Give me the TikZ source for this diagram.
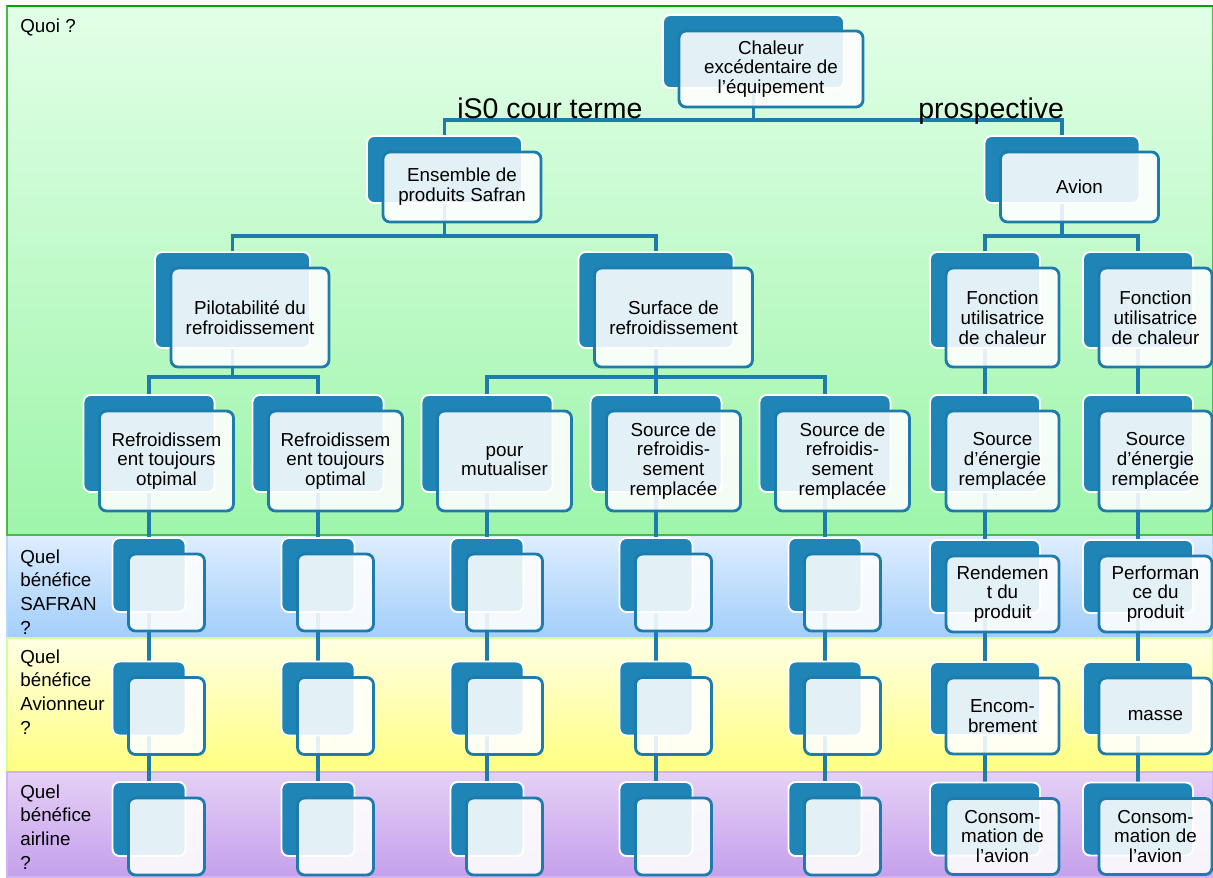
\documentclass[tikz,border=0pt]{standalone}
\usepackage{fontspec}
\setmainfont{Liberation Sans}
\usetikzlibrary{calc, positioning}

\definecolor{backblue}{RGB}{31,133,183}
\definecolor{linkblue}{RGB}{30,124,172}
\definecolor{quoitop}{RGB}{226,255,232}
\definecolor{quoibot}{RGB}{158,245,170}
\definecolor{safrantop}{RGB}{222,238,255}
\definecolor{safranbot}{RGB}{162,206,250}
\definecolor{aviotop}{RGB}{255,255,228}
\definecolor{aviobot}{RGB}{255,255,128}
\definecolor{airtop}{RGB}{228,208,246}
\definecolor{airbot}{RGB}{198,160,236}

\newcommand{\boxfont}{\fontsize{10.7}{11.3}\selectfont}
\newcommand{\bandfont}{\fontsize{10.7}{13.4}\selectfont}

\pgfdeclarelayer{bands}
\pgfdeclarelayer{links}
\pgfsetlayers{bands,links,main}

\tikzset{
    backbox/.style={draw=white, line width=1.1pt, fill=backblue,
        rounded corners=4pt, inner sep=0pt},
    frontbox/.style={draw=linkblue, line width=1.6pt, fill=white,
        fill opacity=0.88, text opacity=1, rounded corners=4pt,
        inner sep=0pt, align=center, font=\boxfont},
    link/.style={draw=linkblue, line width=1.9pt},
    band/.style={shading=axis, line width=0.6pt},
    bandlabel/.style={anchor=base west, inner sep=0pt, align=left,
        font=\bandfont},
    branchlabel/.style={anchor=base west, inner sep=0pt,
        font=\fontsize{16.2}{19}\selectfont},
}

% back box (named) + front box with the text, shifted down right
\newcommand{\accbox}[6]{%
    \node[backbox, minimum width=#4*0.02cm, minimum height=#5*0.02cm]
        (#1) at (#2,#3) {};
    \node[frontbox, minimum width=(#4+3)*0.02cm,
        minimum height=(#5+3)*0.02cm] (#1-t) at ($(#1)+(17.5,17.5)$) {#6};
}

\begin{document}
\begin{tikzpicture}[x=0.02cm, y=-0.02cm]
    \useasboundingbox (0,0) rectangle (1213,877);

    % bands
    \begin{pgfonlayer}{bands}
        \fill[white] (0,0) rectangle (1213,877);
        \path[band, top color=safrantop, bottom color=safranbot,
            draw=safranbot!80!white] (7,535) rectangle (1213,638);
        \path[band, top color=aviotop, bottom color=aviobot,
            draw=aviobot!70!green!60!white] (7,638) rectangle (1213,772);
        \path[band, top color=airtop, bottom color=airbot,
            draw=airbot!80!white] (7,772) rectangle (1213,877);
        \path[band, top color=quoitop, bottom color=quoibot,
            draw=green!60!black!70!white] (7,6) rectangle (1213,535);
        \draw[green!65!black, line width=1.1pt] (7,6) -- (1213,6);
    \end{pgfonlayer}

    % labels sit on the baseline of their last line
    \node[bandlabel] (quoi) at (20,32) {Quoi ?};
    \node[bandlabel] (qsafran) at (20,634) {Quel\\bénéfice\\SAFRAN\\?};
    \node[bandlabel] (qavion) at (20,734) {Quel\\bénéfice\\Avionneur\\?};
    \node[bandlabel] (qairline) at (20,869) {Quel\\bénéfice\\airline\\?};

    % hierarchy
    \accbox{chaleur}{753.5}{51.5}{181}{73}{Chaleur\\excédentaire de\\l’équipement}
    \accbox{ensemble}{444.5}{169.5}{155}{67}{Ensemble de\\produits Safran}
    \accbox{avion}{1062}{169.5}{155}{67}{Avion}
    \accbox{pilot}{232.5}{300}{155}{96}{Pilotabilité du\\refroidissement}
    \accbox{surface}{656}{300}{155}{96}{Surface de\\refroidissement}
    \accbox{fonct1}{985}{300}{110}{96}{Fonction\\utilisatrice\\de chaleur}
    \accbox{fonct2}{1138}{300}{110}{96}{Fonction\\utilisatrice\\de chaleur}

    \accbox{leaf1}{149}{443.5}{131}{97}{Refroidissem\\ent toujours\\otpimal}
    \accbox{leaf2}{318}{443.5}{131}{97}{Refroidissem\\ent toujours\\optimal}
    \accbox{leaf3}{487}{443.5}{131}{97}{pour\\mutualiser}
    \accbox{leaf4}{656}{443.5}{131}{97}{Source de\\refroidis-\\sement\\remplacée}
    \accbox{leaf5}{825}{443.5}{131}{97}{Source de\\refroidis-\\sement\\remplacée}
    \accbox{leaf6}{985}{443.5}{110}{97}{Source\\d’énergie\\remplacée}
    \accbox{leaf7}{1138}{443.5}{110}{97}{Source\\d’énergie\\remplacée}

    \foreach \i/\x in {1/149, 2/318, 3/487, 4/656, 5/825} {
        \accbox{saf\i}{\x}{575}{73}{74}{}
        \accbox{avi\i}{\x}{698.5}{73}{74}{}
        \accbox{air\i}{\x}{819}{73}{74}{}
    }
    \accbox{saf6}{985}{576.5}{110}{73}{Rendemen\\t du\\produit}
    \accbox{saf7}{1138}{576.5}{110}{73}{Performan\\ce du\\produit}
    \accbox{avi6}{985}{698.5}{110}{73}{Encom-\\brement}
    \accbox{avi7}{1138}{698.5}{110}{73}{masse}
    \accbox{air6}{985}{819}{110}{73}{Consom-\\mation de\\l’avion}
    \accbox{air7}{1138}{819}{110}{73}{Consom-\\mation de\\l’avion}

    % connectors
    \coordinate (j0) at (753.5,120);
    \coordinate (j1) at (444.5,236);
    \coordinate (j2) at (1062,236);
    \coordinate (j3) at (232.5,377);
    \coordinate (j4) at (656,377);
    \begin{pgfonlayer}{links}
        \draw[link] (chaleur.south) -- (j0);
        \draw[link] (ensemble.north) |- (j0) -| (avion.north);
        \draw[link] (ensemble.south) -- (j1);
        \draw[link] (pilot.north) |- (j1) -| (surface.north);
        \draw[link] (avion.south) -- (j2);
        \draw[link] (fonct1.north) |- (j2) -| (fonct2.north);
        \draw[link] (pilot.south) -- (j3);
        \draw[link] (leaf1.north) |- (j3) -| (leaf2.north);
        \draw[link] (surface.south) -- (leaf4.north);
        \draw[link] (leaf3.north) |- (j4) -| (leaf5.north);
        \draw[link] (fonct1.south) -- (leaf6.north);
        \draw[link] (fonct2.south) -- (leaf7.north);
        \foreach \i in {1,...,7} {
            \draw[link] (leaf\i.south) -- (saf\i.north);
            \draw[link] (saf\i.south) -- (avi\i.north);
            \draw[link] (avi\i.south) -- (air\i.north);
        }
    \end{pgfonlayer}

    \node[branchlabel] (court) at (457,118) {iS0 cour terme};
    \node[branchlabel] (prosp) at (918,118) {prospective};
\end{tikzpicture}
\end{document}
